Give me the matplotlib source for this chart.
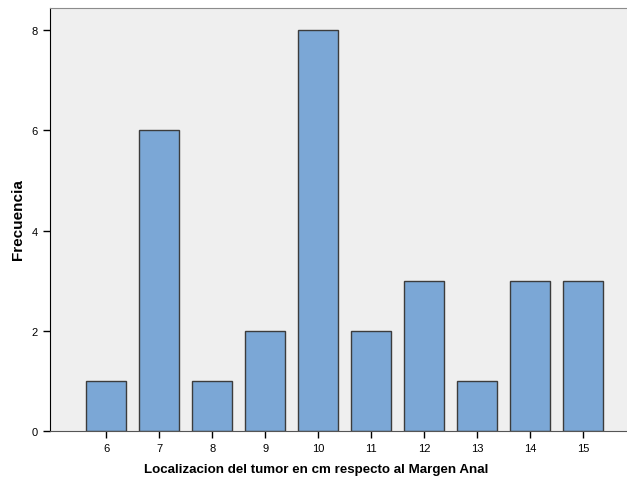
import matplotlib.pyplot as plt

plt.rcParams['font.family'] = ['Liberation Sans', 'DejaVu Sans']

localizacion = [6, 7, 8, 9, 10, 11, 12, 13, 14, 15]
frecuencia = [1, 6, 1, 2, 8, 2, 3, 1, 3, 3]
yticks = [0, 2, 4, 6, 8]

fig = plt.figure(figsize=(6.27, 4.81), dpi=100)
ax = fig.add_axes([50 / 627, 49 / 481, 577 / 627, 423 / 481])
ax.set_facecolor('#efefef')

ax.bar(localizacion, frecuencia, width=0.755, color='#7ba7d6',
       edgecolor='#3c3c3c', linewidth=1.0, zorder=2)

ax.set_xlim(4.94, 15.83)
ax.set_ylim(0, 8.44)
ax.set_xticks(localizacion)
ax.set_xticklabels([str(v) for v in localizacion])
ax.set_yticks(yticks)
ax.tick_params(axis='both', labelsize=8, length=5, width=1, color='black', pad=4)

ax.spines['right'].set_visible(False)
ax.spines['top'].set_color('#8c8c8c')
ax.spines['left'].set_color('black')
ax.spines['bottom'].set_color('#555555')

ax.set_xlabel('Localizacion del tumor en cm respecto al Margen Anal',
              fontsize=9.6, fontweight='bold', va='center')
ax.xaxis.set_label_coords(0.462, -0.0898)
ax.set_ylabel('Frecuencia', fontsize=11, fontweight='bold', va='center')
ax.yaxis.set_label_coords(-0.0555, 0.503)

fig.savefig('out.png', dpi=100)
